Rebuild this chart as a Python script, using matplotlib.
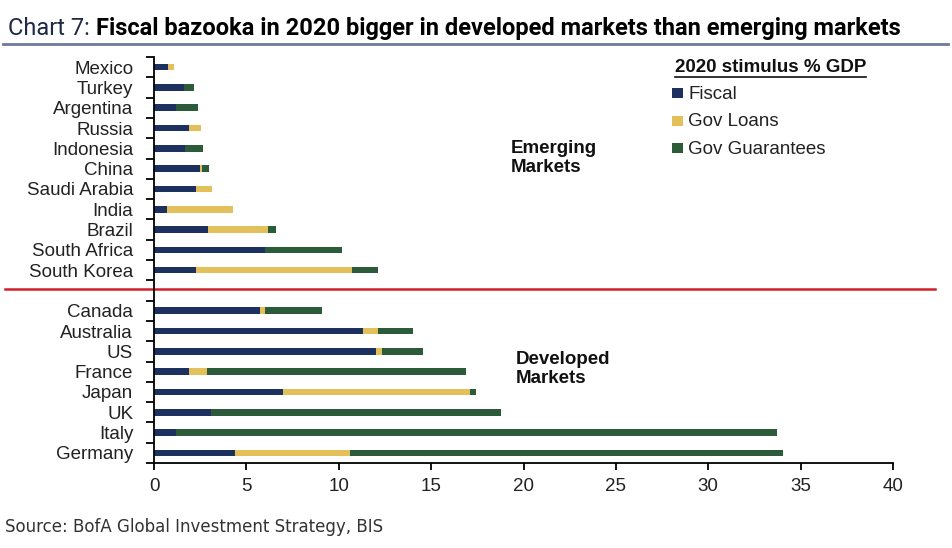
import matplotlib
matplotlib.use('Agg')
import matplotlib.pyplot as plt
import matplotlib.transforms as mtransforms
from matplotlib import font_manager
from matplotlib.lines import Line2D
from matplotlib.patches import Rectangle
import numpy as np

# ---------------- data ----------------
countries = ["Germany", "Italy", "UK", "Japan", "France", "US", "Australia", "Canada", "",
             "South Korea", "South Africa", "Brazil", "India", "Saudi Arabia", "China",
             "Indonesia", "Russia", "Argentina", "Turkey", "Mexico"]
fiscal = [4.4, 1.2, 3.1, 7.0, 1.9, 12.0, 11.3, 5.75, 0,
          2.3, 6.0, 2.9, 0.7, 2.3, 2.5, 1.7, 1.9, 1.2, 1.6, 0.75]
gov_loans = [6.2, 0, 0, 10.1, 0.95, 0.35, 0.8, 0.25, 0,
             8.4, 0, 3.25, 3.6, 0.85, 0.12, 0, 0.65, 0, 0, 0.33]
gov_guarantees = [23.45, 32.5, 15.7, 0.35, 14.05, 2.2, 1.9, 3.1, 0,
                  1.4, 4.15, 0.47, 0, 0, 0.38, 0.93, 0, 1.2, 0.55, 0]
series_names = ["Fiscal", "Gov Loans", "Gov Guarantees"]
x_ticks = [0, 5, 10, 15, 20, 25, 30, 35, 40]

title_prefix = "Chart 7: "
title_main = "Fiscal bazooka in 2020 bigger in developed markets than emerging markets"
legend_title = "2020 stimulus % GDP"
source = "Source: BofA Global Investment Strategy, BIS"

# ---------------- style ----------------
C_FISCAL = "#1c3160"
C_LOANS = "#e4c05a"
C_GUAR = "#2b5b39"
W, H = 952, 548

installed = {f.name for f in font_manager.fontManager.ttflist}
BASE = "Liberation Sans" if "Liberation Sans" in installed else "DejaVu Sans"
if "Liberation Sans Narrow" in installed:
    TFONT = "Liberation Sans Narrow"
elif "Roboto" in installed:
    TFONT = "Roboto"
else:
    TFONT = BASE
plt.rcParams['font.family'] = [BASE, 'DejaVu Sans']

fig = plt.figure(figsize=(W / 100, H / 100), dpi=100)
fig.patch.set_facecolor("white")


def px(x, y):
    return (x / W, 1 - y / H)


ax = fig.add_axes([154 / W, 1 - 463 / H, (893 - 154) / W, (463 - 57) / H])

y = np.arange(len(countries))
f = np.array(fiscal)
l = np.array(gov_loans)
g = np.array(gov_guarantees)
bh = 0.33
ax.barh(y, f, height=bh, color=C_FISCAL, label=series_names[0])
ax.barh(y, l, left=f, height=bh, color=C_LOANS, label=series_names[1])
ax.barh(y, g, left=f + l, height=bh, color=C_GUAR, label=series_names[2])

ax.set_xlim(0, 40)
ax.set_ylim(-0.5, len(countries) - 0.5)
for s in ["top", "right"]:
    ax.spines[s].set_visible(False)
for s in ["left", "bottom"]:
    ax.spines[s].set_linewidth(1.3)
    ax.spines[s].set_color("black")

ax.set_xticks(x_ticks)
ax.set_xticklabels([str(v) for v in x_ticks])
ax.tick_params(axis="x", direction="out", length=5, width=1.3, pad=6,
               labelsize=13.5, labelcolor="#222222")
ax.set_yticks(y)
ax.set_yticklabels(countries)
ax.tick_params(axis="y", which="major", length=0, pad=15, labelsize=13.5,
               labelcolor="#222222")
ax.set_yticks(np.arange(-0.5, len(countries), 1.0), minor=True)
ax.tick_params(axis="y", which="minor", direction="out", length=6, width=1.3)

# red separator line across the figure
trans = mtransforms.blended_transform_factory(fig.transFigure, ax.transData)
ax.add_line(Line2D([5 / W, 935 / W], [8.05, 8.05], transform=trans, color="#d01f2a",
                   lw=1.8, clip_on=False))

# group labels
fig.text(*px(511, 158), "Emerging\nMarkets", fontsize=13.5, fontweight="bold",
         ha="left", va="center", linespacing=1.2, color="#111111")
fig.text(*px(516, 369), "Developed\nMarkets", fontsize=13.5, fontweight="bold",
         ha="left", va="center", linespacing=1.2, color="#111111")

# legend (manual)
lt = fig.text(*px(675, 68), legend_title, fontsize=13.5, fontweight="bold",
              ha="left", va="center", color="#111111")
fig.canvas.draw()
r = fig.canvas.get_renderer()
bb = lt.get_window_extent(r)
fig.add_artist(Line2D([bb.x0 / W, bb.x1 / W], [1 - 77 / H, 1 - 77 / H],
                      transform=fig.transFigure, color="#111111", lw=1.2))
for name, col, yy in zip(series_names, [C_FISCAL, C_LOANS, C_GUAR], [93, 121, 148]):
    fig.add_artist(Rectangle(px(672, yy + 5), 11 / W, 10 / H, transform=fig.transFigure,
                             facecolor=col, edgecolor="none"))
    fig.text(*px(688, yy + 1), name, fontsize=13.5, ha="left", va="center", color="#222222")

# title
t1 = fig.text(*px(8, 35), title_prefix, fontsize=17, family=[TFONT, 'DejaVu Sans'],
              ha="left", va="baseline", color="#1f2a44")
fig.canvas.draw()
b1 = t1.get_window_extent(r)
t2 = fig.text(b1.x1 / W, 1 - 35 / H, title_main, fontsize=17, fontweight="bold",
              family=[TFONT, 'DejaVu Sans'], ha="left", va="baseline", color="#000000")
fig.canvas.draw()
b2 = t2.get_window_extent(r)
scale = (902 - 8) / (b2.x1 - b1.x0)
t1.set_fontsize(17 * scale)
t2.set_fontsize(17 * scale)
fig.canvas.draw()
b1 = t1.get_window_extent(r)
t2.set_x(b1.x1 / W)

fig.add_artist(Line2D([3 / W, 948 / W], [1 - 44 / H, 1 - 44 / H], transform=fig.transFigure,
                      color="#6c7a9c", lw=2.0))

# source
fig.text(*px(5, 527), source, fontsize=12, family=['DejaVu Sans'], ha="left",
         va="center", color="#333333")

fig.savefig("out.png", dpi=100, facecolor="white")
